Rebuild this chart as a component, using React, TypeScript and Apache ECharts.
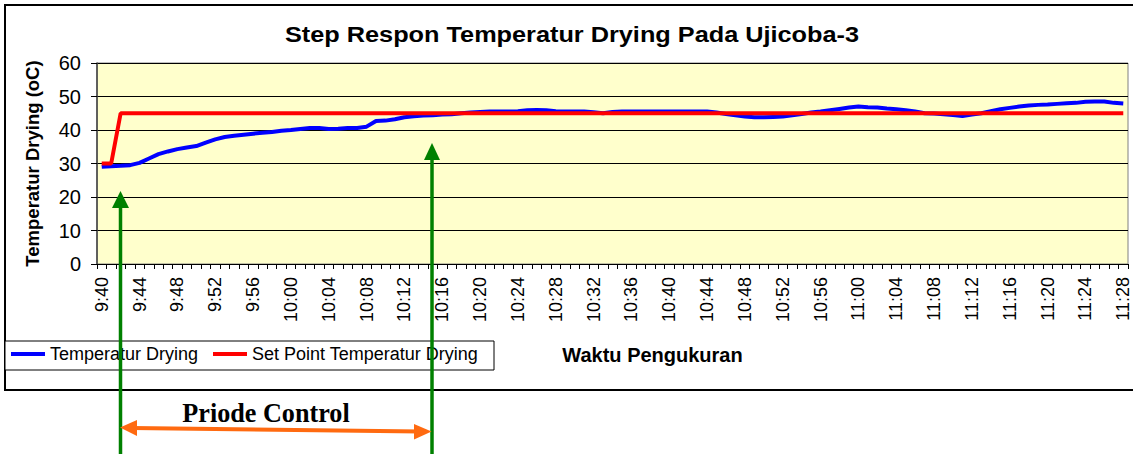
import React, { useEffect, useRef } from "react";
import * as echarts from "echarts";

const times = [
  "9:40", "9:41", "9:42", "9:43", "9:44", "9:45", "9:46", "9:47", "9:48", "9:49",
  "9:50", "9:51", "9:52", "9:53", "9:54", "9:55", "9:56", "9:57", "9:58", "9:59",
  "10:00", "10:01", "10:02", "10:03", "10:04", "10:05", "10:06", "10:07", "10:08", "10:09",
  "10:10", "10:11", "10:12", "10:13", "10:14", "10:15", "10:16", "10:17", "10:18", "10:19",
  "10:20", "10:21", "10:22", "10:23", "10:24", "10:25", "10:26", "10:27", "10:28", "10:29",
  "10:30", "10:31", "10:32", "10:33", "10:34", "10:35", "10:36", "10:37", "10:38", "10:39",
  "10:40", "10:41", "10:42", "10:43", "10:44", "10:45", "10:46", "10:47", "10:48", "10:49",
  "10:50", "10:51", "10:52", "10:53", "10:54", "10:55", "10:56", "10:57", "10:58", "10:59",
  "11:00", "11:01", "11:02", "11:03", "11:04", "11:05", "11:06", "11:07", "11:08", "11:09",
  "11:10", "11:11", "11:12", "11:13", "11:14", "11:15", "11:16", "11:17", "11:18", "11:19",
  "11:20", "11:21", "11:22", "11:23", "11:24", "11:25", "11:26", "11:27", "11:28",
];

const temperaturDrying = [
  29.0, 29.2, 29.3, 29.5, 30.2, 31.5, 32.8, 33.6, 34.3, 34.8,
  35.2, 36.2, 37.2, 37.9, 38.3, 38.6, 38.9, 39.2, 39.4, 39.8,
  40.0, 40.3, 40.6, 40.6, 40.3, 40.4, 40.6, 40.6, 41.0, 42.7,
  42.8, 43.2, 43.8, 44.1, 44.3, 44.4, 44.6, 44.7, 45.0, 45.2,
  45.4, 45.5, 45.5, 45.5, 45.6, 45.9, 46.0, 45.9, 45.6, 45.5,
  45.5, 45.5, 45.3, 45.0, 45.4, 45.5, 45.5, 45.5, 45.5, 45.5,
  45.5, 45.5, 45.5, 45.5, 45.5, 45.2, 44.8, 44.4, 44.0, 43.8,
  43.8, 43.9, 44.0, 44.4, 44.8, 45.2, 45.5, 45.9, 46.3, 46.7,
  47.0, 46.8, 46.7, 46.4, 46.2, 45.9, 45.5, 45.0, 44.9, 44.7,
  44.5, 44.2, 44.6, 45.0, 45.6, 46.2, 46.6, 47.0, 47.3, 47.5,
  47.6, 47.8, 48.0, 48.1, 48.4, 48.5, 48.5, 48.1, 47.9,
];

const setPoint = [
  30, 30, 45, 45, 45, 45, 45, 45, 45, 45,
  45, 45, 45, 45, 45, 45, 45, 45, 45, 45,
  45, 45, 45, 45, 45, 45, 45, 45, 45, 45,
  45, 45, 45, 45, 45, 45, 45, 45, 45, 45,
  45, 45, 45, 45, 45, 45, 45, 45, 45, 45,
  45, 45, 45, 45, 45, 45, 45, 45, 45, 45,
  45, 45, 45, 45, 45, 45, 45, 45, 45, 45,
  45, 45, 45, 45, 45, 45, 45, 45, 45, 45,
  45, 45, 45, 45, 45, 45, 45, 45, 45, 45,
  45, 45, 45, 45, 45, 45, 45, 45, 45, 45,
  45, 45, 45, 45, 45, 45, 45, 45, 45,
];

const FONT = '"Liberation Sans", Arial, sans-serif';

export default function App() {
  const ref = useRef<HTMLDivElement>(null);

  useEffect(() => {
    const chart = echarts.init(ref.current!, null, { renderer: "svg" });
    const green = "#008000";
    const orange = "#FF6A10";
    chart.setOption({
      animation: false,
      textStyle: { fontFamily: FONT, color: "#000" },
      grid: {
        left: 97,
        right: 5,
        top: 63,
        bottom: 190,
        show: true,
        backgroundColor: "#FFFFCC",
        borderColor: "#808080",
        borderWidth: 1,
      },
      legend: [
        {
          data: ["Temperatur Drying"],
          left: 11,
          top: 345,
          padding: 0,
          icon: "rect",
          itemWidth: 34,
          itemHeight: 4,
          textStyle: { fontSize: 18, color: "#000", fontFamily: FONT },
        },
        {
          data: ["Set Point Temperatur Drying"],
          left: 213,
          top: 345,
          padding: 0,
          icon: "rect",
          itemWidth: 34,
          itemHeight: 4,
          textStyle: { fontSize: 18, color: "#000", fontFamily: FONT },
        },
      ],
      xAxis: {
        type: "category",
        data: times,
        boundaryGap: true,
        axisLine: { lineStyle: { color: "#000", width: 1 } },
        axisTick: { show: true, interval: 0, length: 5, lineStyle: { color: "#000" } },
        axisLabel: { interval: 3, rotate: 90, fontSize: 18, color: "#000", margin: 13, fontFamily: FONT },
        splitLine: { show: false },
        name: "Waktu Pengukuran",
        nameLocation: "middle",
        nameGap: 81,
        nameTextStyle: { fontSize: 20, fontWeight: "bold", color: "#000", padding: [0, 0, 0, 80], fontFamily: FONT },
      },
      yAxis: {
        type: "value",
        min: 0,
        max: 60,
        interval: 10,
        axisLine: { show: true, lineStyle: { color: "#404040", width: 1.5 } },
        axisTick: { show: true, length: 6, lineStyle: { color: "#000" } },
        axisLabel: { fontSize: 20, color: "#000", margin: 16, fontFamily: FONT },
        splitLine: { show: true, lineStyle: { color: "#000", width: 1 } },
        name: "Temperatur Drying (oC)",
        nameLocation: "middle",
        nameGap: 55,
        nameTextStyle: { fontSize: 18.5, fontWeight: "bold", color: "#000", fontFamily: FONT },
      },
      series: [
        {
          name: "Temperatur Drying",
          type: "line",
          data: temperaturDrying,
          symbol: "none",
          color: "#0000FF",
          lineStyle: { color: "#0000FF", width: 4 },
          z: 2,
        },
        {
          name: "Set Point Temperatur Drying",
          type: "line",
          data: setPoint,
          symbol: "none",
          color: "#FF0000",
          lineStyle: { color: "#FF0000", width: 4 },
          z: 3,
        },
      ],
      graphic: [
        {
          type: "rect",
          z: -10,
          shape: { x: 5, y: 5, width: 1140, height: 385 },
          style: { fill: "none", stroke: "#000", lineWidth: 2 },
        },
        {
          type: "rect",
          z: 0,
          shape: { x: 5, y: 341, width: 489, height: 29 },
          style: { fill: "#fff", stroke: "#000", lineWidth: 1 },
        },
        {
          type: "text",
          x: 572,
          y: 35,
          scaleX: 1.15,
          style: {
            text: "Step Respon Temperatur Drying Pada Ujicoba-3",
            font: 'bold 22px "Liberation Sans", Arial, sans-serif',
            fill: "#000",
            textAlign: "center",
            textVerticalAlign: "middle",
          },
        },
        {
          type: "line",
          z: 100,
          shape: { x1: 120.5, y1: 205, x2: 120.5, y2: 460 },
          style: { stroke: green, lineWidth: 3.5 },
        },
        {
          type: "polygon",
          z: 100,
          shape: { points: [[112, 208], [129, 208], [120.5, 191]] },
          style: { fill: green },
        },
        {
          type: "line",
          z: 100,
          shape: { x1: 432, y1: 157, x2: 432, y2: 460 },
          style: { stroke: green, lineWidth: 3.5 },
        },
        {
          type: "polygon",
          z: 100,
          shape: { points: [[424, 160], [440, 160], [432, 143]] },
          style: { fill: green },
        },
        {
          type: "line",
          z: 100,
          shape: { x1: 132, y1: 428, x2: 420, y2: 431.5 },
          style: { stroke: orange, lineWidth: 4 },
        },
        {
          type: "polygon",
          z: 100,
          shape: { points: [[120, 427.5], [137, 420], [137, 436]] },
          style: { fill: orange },
        },
        {
          type: "polygon",
          z: 100,
          shape: { points: [[431.5, 431.5], [414, 424], [414, 439.5]] },
          style: { fill: orange },
        },
        {
          type: "text",
          x: 266,
          y: 413,
          scaleX: 0.97,
          style: {
            text: "Priode Control",
            font: 'bold 27px "Liberation Serif", "Times New Roman", serif',
            fill: "#000",
            textAlign: "center",
            textVerticalAlign: "middle",
          },
        },
      ],
    });
    return () => chart.dispose();
  }, []);

  return (
    <div
      ref={ref}
      style={{ position: "fixed", left: 0, top: 0, width: 1133, height: 454, background: "#fff" }}
    />
  );
}
